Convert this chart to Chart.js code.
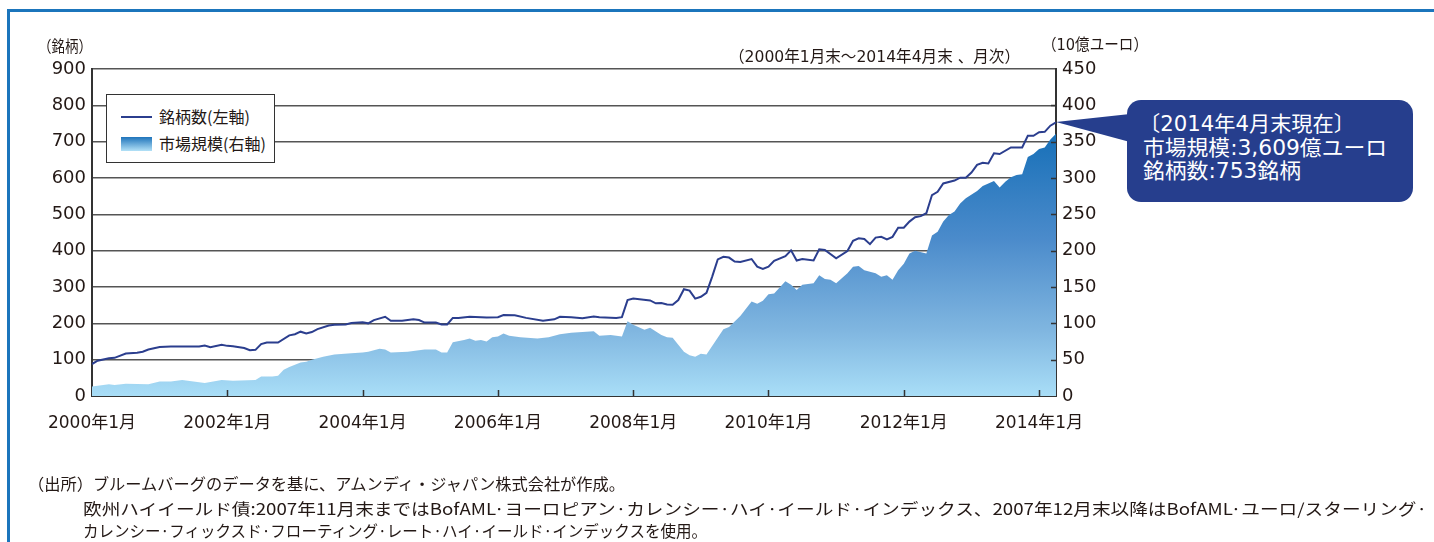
<!DOCTYPE html>
<html>
<head>
<meta charset="utf-8">
<script src="https://cdn.jsdelivr.net/npm/chart.js@4.4.1/dist/chart.umd.min.js"></script>
<style>
body{margin:0;background:#fff;font-family:"DejaVu Sans","Noto Sans CJK JP",sans-serif;color:#231815;}
#wrap{position:relative;width:1434px;height:542px;overflow:hidden;}
#box{position:absolute;left:0;top:0;width:1434px;height:542px;}
.frame-top{position:absolute;left:7px;top:9px;width:1427px;height:3px;background:#1b75bc;}
.frame-left{position:absolute;left:7px;top:9px;width:3px;height:533px;background:#1b75bc;}
.t{position:absolute;white-space:nowrap;font-size:16px;line-height:18px;transform-origin:0 50%;}
.cjk{font-family:"Noto Sans CJK JP",sans-serif;}
#legend{position:absolute;left:106px;top:94px;width:167px;height:67px;border:1px solid #333;background:#fff;}
#legend .ln{position:absolute;left:14px;top:21px;width:31px;height:2px;background:#2b3e8e;}
#legend .sw{position:absolute;left:14px;top:42px;width:31px;height:14px;background:linear-gradient(#1f74bb,#b3e1f7);}
#legend .lt{position:absolute;left:52px;font-size:16px;line-height:18px;white-space:nowrap;font-family:"Noto Sans CJK JP",sans-serif;}
#callout{position:absolute;left:1127px;top:100px;width:286px;height:102px;border-radius:14px;background:#263e8d;color:#fff;}
#callout div{position:absolute;left:14px;font-size:21px;line-height:24px;white-space:nowrap;transform-origin:0 50%;}
#wedge{position:absolute;left:1056px;top:108px;width:74px;height:36px;background:#263e8d;clip-path:polygon(0 14px,74px 6px,74px 34px);}
</style>
</head>
<body>
<div id="wrap">
  <div class="frame-top"></div>
  <div class="frame-left"></div>
  <div id="box"><canvas id="ikc1"></canvas></div>

  <div class="t cjk" data-w="54" style="left:38px;top:36px;">（銘柄）</div>
  <div class="t" data-w="106" style="left:1042px;top:36px;">（10億ユーロ）</div>
  <div class="t" data-w="291" style="left:729px;top:48px;">（2000年1月末～2014年4月末 、月次）</div>

  <div id="legend">
    <div class="ln"></div><div class="lt" style="top:12px;">銘柄数(左軸)</div>
    <div class="sw"></div><div class="lt" style="top:39px;">市場規模(右軸)</div>
  </div>

  <div id="wedge"></div>
  <div id="callout">
    <div data-w="216" style="top:12px;left:12px;">〔2014年4月末現在〕</div>
    <div data-w="244" style="top:36px;left:16px;">市場規模:3,609億ユーロ</div>
    <div data-w="158" style="top:59px;left:16px;">銘柄数:753銘柄</div>
  </div>

  <div class="t cjk" data-w="597" style="left:28px;top:474px;">（出所）ブルームバーグのデータを基に、アムンディ・ジャパン株式会社が作成。</div>
  <div class="t cjk" data-w="1344" style="left:83px;top:499px;">欧州ハイイールド債:2007年11月末まではBofAML·ヨーロピアン·カレンシー·ハイ·イールド·インデックス、2007年12月末以降はBofAML·ユーロ/スターリング·</div>
  <div class="t cjk" data-w="624" style="left:83px;top:521px;">カレンシー·フィックスド·フローティング·レート·ハイ·イールド·インデックスを使用。</div>
</div>

<script>
// months counted from 2000年1月 (0) to 2014年4月 (171)
var xTickMonths = [0, 24, 48, 72, 96, 120, 144, 168];
var xTickLabels = ["2000年1月","2002年1月","2004年1月","2006年1月","2008年1月","2010年1月","2012年1月","2014年1月"];

// 銘柄数 (left axis)
var countMonths = [0,1,3,4,6,8,9,10,12,14,17,19,20,21,23,24,25,27,28,29,30,31,33,35,36,37,38,39,40,42,43,45,46,48,49,50,52,53,55,57,58,59,61,62,63,64,65,67,69,70,72,73,75,77,80,82,83,85,87,89,90,93,94,95,96,99,100,101,102,103,104,105,106,107,108,109,110,111,112,113,114,115,117,118,119,120,121,123,124,125,126,128,129,130,132,134,135,136,137,138,139,140,141,142,143,144,145,146,147,148,149,150,151,153,154,155,156,157,158,159,160,161,163,165,166,167,168,169,170,171];
var countValues = [88,97,104,105,117,119,122,128,135,136,136,136,139,134,141,138,137,132,126,127,143,147,147,167,170,177,172,176,184,194,196,197,201,203,200,209,218,207,207,211,209,202,202,197,197,215,215,218,217,216,217,223,222,215,207,211,218,217,214,219,217,215,217,264,268,263,255,256,252,251,264,294,290,268,273,284,328,376,383,381,370,369,377,356,350,356,372,385,401,373,377,373,404,402,379,399,427,434,432,418,436,438,431,438,463,463,480,492,495,503,553,562,585,593,601,601,615,636,642,640,668,666,684,684,716,716,726,727,744,753];

// 市場規模 10億ユーロ (right axis)
var sizeMonths = [0,3,4,6,10,12,14,16,18,20,23,25,29,30,32,33,34,35,37,38,39,41,43,46,48,49,51,52,53,56,57,59,61,62,63,64,66,67,68,69,70,71,72,73,74,76,79,81,83,85,87,89,90,92,94,95,96,98,99,101,102,103,105,106,107,108,109,112,113,115,117,118,119,120,121,123,124,125,126,128,129,130,131,132,134,135,136,137,139,140,141,142,143,144,145,146,148,149,150,151,152,153,154,155,157,158,160,161,162,163,164,165,166,167,168,169,170,171];
var sizeValues = [13,16,15,17,16,20,20,22,20,18,22,21,22,27,27,28,36,40,46,47,50,54,57,59,60,61,65,64,60,61,62,64,64,60,60,74,77,79,76,77,75,81,82,86,83,81,79,81,85,87,88,89,83,84,82,103,98,91,94,84,81,80,61,56,54,58,57,92,95,110,130,127,131,140,141,158,153,146,153,155,166,161,160,155,169,178,179,173,169,164,166,160,173,182,196,200,196,221,226,240,249,254,265,272,282,289,296,287,295,301,304,305,329,333,340,342,353,361];

function toPoints(xs, ys){
	var pts = [];
	for(var i=0;i<xs.length;i++){
		pts.push({x: xs[i], y: ys[i]});
	}
	return pts;
}

// squeeze/stretch text boxes to the widths seen in the picture
function fitTexts(){
	var els = document.querySelectorAll('[data-w]');
	for(var i=0;i<els.length;i++){
		var w = els[i].getBoundingClientRect().width;
		var target = parseFloat(els[i].getAttribute('data-w'));
		if(w > 0) els[i].style.transform = 'scaleX(' + (target / w) + ')';
	}
}
fitTexts();

function areaGradient(context){
	var chart = context.chart;
	var area = chart.chartArea;
	if(!area) return '#7fb4e0';
	var top = chart.scales.y2.getPixelForValue(360);
	var g = chart.ctx.createLinearGradient(0, area.bottom, 0, top);
	g.addColorStop(0, '#a9def7');
	g.addColorStop(0.25, '#80b6e0');
	g.addColorStop(0.6, '#4b8bcb');
	g.addColorStop(1, '#1870b8');
	return g;
}

var yFont = {family: '"DejaVu Sans", "Noto Sans CJK JP", sans-serif', size: 18};
var xFont = {family: '"DejaVu Sans", "Noto Sans CJK JP", sans-serif', size: 17};

// small tick marks: x axis (upward) and right axis (inward)
var tickMarks = {
	id: 'tickMarks',
	afterDatasetsDraw: function(chart){
		var c = chart.ctx, a = chart.chartArea;
		c.save();
		c.strokeStyle = '#333';
		c.lineWidth = 1.5;
		c.beginPath();
		for(var i=1;i<xTickMonths.length;i++){
			var px = Math.round(chart.scales.x.getPixelForValue(xTickMonths[i])) + 0.5;
			c.moveTo(px, a.bottom);
			c.lineTo(px, a.bottom - 6);
		}
		for(var v=50; v<450; v+=50){
			var py = Math.round(chart.scales.y2.getPixelForValue(v)) + 0.5;
			c.moveTo(a.right, py);
			c.lineTo(a.right - 5, py);
		}
		c.stroke();
		c.restore();
	}
};

var ctx1 = document.getElementById('ikc1').getContext('2d');
var myChart1 = new Chart(ctx1, {
	type: 'line',
	data: {
		datasets: [{
			label: '銘柄数(左軸)',
			data: toPoints(countMonths, countValues),
			yAxisID: 'y',
			borderColor: '#2b3e8e',
			borderWidth: 2,
			pointRadius: 0,
			fill: false,
			tension: 0,
			order: 0
		},{
			label: '市場規模(右軸)',
			data: toPoints(sizeMonths, sizeValues),
			yAxisID: 'y2',
			borderWidth: 0,
			borderColor: 'rgba(0,0,0,0)',
			backgroundColor: areaGradient,
			pointRadius: 0,
			fill: 'origin',
			tension: 0,
			order: 1
		}]
	},
	options: {
		responsive: true,
		maintainAspectRatio: false,
		animation: false,
		layout: {padding: {top: 69, left: 0, right: 0, bottom: 0}},
		plugins: {legend: {display: false}, tooltip: {enabled: false}},
		scales: {
			x: {
				type: 'linear', min: 0, max: 171,
				afterFit: function(s){ s.height = 146; },
				afterBuildTicks: function(s){ s.ticks = xTickMonths.map(function(m){ return {value: m}; }); },
				ticks: {
					autoSkip: false, maxRotation: 0, padding: 9, color: '#231815', font: xFont,
					callback: function(v, i){ return xTickLabels[i]; }
				},
				grid: {display: false},
				border: {display: true, color: '#333', width: 2}
			},
			y: {
				position: 'left', min: 0, max: 900,
				afterFit: function(s){ s.width = 92; },
				ticks: {stepSize: 100, padding: 6, color: '#231815', font: yFont},
				grid: {color: '#555', lineWidth: 1.5, drawTicks: false},
				border: {color: '#333', width: 2}
			},
			y2: {
				position: 'right', min: 0, max: 450,
				afterFit: function(s){ s.width = 378; },
				ticks: {stepSize: 50, padding: 6, color: '#231815', font: yFont},
				grid: {drawOnChartArea: false, drawTicks: false},
				border: {color: '#333', width: 2}
			}
		}
	},
	plugins: [tickMarks]
});
</script>
</body>
</html>
